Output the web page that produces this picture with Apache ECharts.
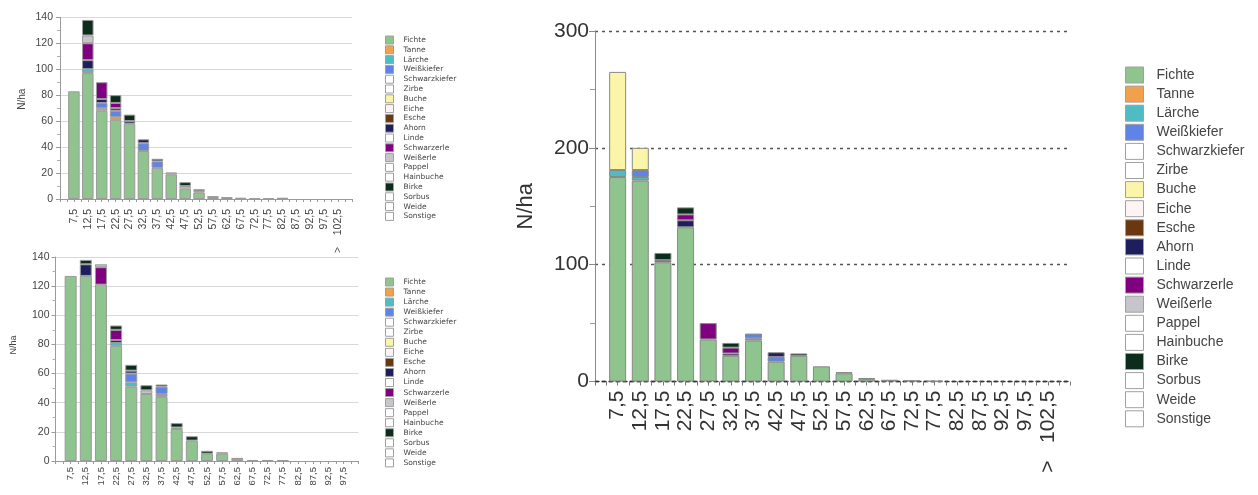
<!DOCTYPE html>
<html>
<head>
<meta charset="utf-8">
<script src="https://cdn.jsdelivr.net/npm/echarts@6/dist/echarts.min.js"></script>
<style>
  html, body { margin: 0; padding: 0; background: #ffffff; }
  #chart { width: 1258px; height: 495px; }
</style>
</head>
<body>
<div id="chart"></div>
<script>
// Baumarten in Stapel- und Legendenreihenfolge (Fichte unten)
const baumarten = ['Fichte', 'Tanne', 'Lärche', 'Weißkiefer', 'Schwarzkiefer', 'Zirbe', 'Buche', 'Eiche',
  'Esche', 'Ahorn', 'Linde', 'Schwarzerle', 'Weißerle', 'Pappel', 'Hainbuche', 'Birke', 'Sorbus', 'Weide', 'Sonstige'];
const farben = ['#8fc48f', '#f3a04c', '#4fbcc4', '#5f84e6', '#ffffff', '#ffffff', '#fbf5a9', '#fff4f4',
  '#6a3810', '#1e1e5e', '#ffffff', '#800080', '#c8c4cc', '#ffffff', '#ffffff', '#0c2c1c', '#ffffff', '#ffffff', '#ffffff'];

// BHD-Klassen (Klassenmitte, cm) und Beschriftungen
const klassen = [7.5, 12.5, 17.5, 22.5, 27.5, 32.5, 37.5, 42.5, 47.5, 52.5, 57.5, 62.5, 67.5, 72.5, 77.5, 82.5, 87.5, 92.5, 97.5, 102.5];
const klassenLabels = ['7,5', '12,5', '17,5', '22,5', '27,5', '32,5', '37,5', '42,5', '47,5', '52,5', '57,5', '62,5',
  '67,5', '72,5', '77,5', '82,5', '87,5', '92,5', '97,5', '> 102,5'];
const klassenUnten = [7.5, 12.5, 17.5, 22.5, 27.5, 32.5, 37.5, 42.5, 47.5, 52.5, 57.5, 62.5, 67.5, 72.5, 77.5, 82.5, 87.5, 92.5, 97.5];

// Stammzahl N/ha je Klasse – Diagramm oben links
const obenFichte      = [83, 97, 68, 61, 58, 37, 24, 19, 8, 5, 1.5, 1.5, 1, 0.5, 0.5, 1, 0, 0, 0, 0];
const obenTanne       = [0, 0, 2, 2, 0, 0, 0, 0, 0, 0, 0, 0, 0, 0, 0, 0, 0, 0, 0, 0];
const obenLaerche     = [0, 3, 0, 0, 0, 0, 0, 0, 0, 0, 0, 0, 0, 0, 0, 0, 0, 0, 0, 0];
const obenWeisskiefer = [0, 0, 4, 5, 0, 6, 5, 0, 0, 0, 0, 0, 0, 0, 0, 0, 0, 0, 0, 0];
const obenAhorn       = [0, 7, 3, 2, 2, 3, 2, 0, 0, 0, 0, 0, 0, 0, 0, 0, 0, 0, 0, 0];
const obenSchwarzerle = [0, 13, 13, 4, 0, 0, 0, 0, 0, 0, 0, 0, 0, 0, 0, 0, 0, 0, 0, 0];
const obenWeisserle   = [0, 6, 0, 0, 0, 0, 0, 1.5, 2, 1, 0, 0, 0, 0, 0, 0, 0, 0, 0, 0];
const obenBirke       = [0, 12, 0, 6, 5, 0, 0, 0, 3, 1.5, 0.5, 0, 0, 0, 0, 0, 0, 0, 0, 0];

// Stammzahl N/ha je Klasse – Diagramm unten links
const untenFichte      = [127, 127, 121, 79, 51, 46, 44, 22, 14, 5, 5, 1.5, 0.7, 0.7, 0.5, 0, 0, 0, 0];
const untenLaerche     = [0, 0, 0, 2, 3, 0, 2, 0, 0, 0, 0, 0, 0, 0, 0, 0, 0, 0, 0];
const untenWeisskiefer = [0, 0, 0, 0, 6, 0, 5, 0, 0, 0, 0, 0, 0, 0, 0, 0, 0, 0, 0];
const untenAhorn       = [0, 8, 0, 2, 2, 0, 1.5, 1, 0, 0, 0, 0, 0, 0, 0, 0, 0, 0, 0];
const untenSchwarzerle = [0, 0, 12, 7, 0, 0, 0, 0, 0, 0, 0, 0, 0, 0, 0, 0, 0, 0, 0];
const untenWeisserle   = [0, 0, 2, 0, 0, 2.5, 0, 0, 0, 0, 1, 0, 0, 0, 0, 0, 0, 0, 0];
const untenBirke       = [0, 3, 0, 3, 4, 3.5, 0, 3, 3, 2, 0, 0.5, 0, 0, 0, 0, 0, 0, 0];

// Stammzahl N/ha je Klasse – großes Diagramm
const gesamtFichte      = [175, 172, 102, 132, 36, 22, 35, 17, 22, 13, 7, 2, 1.5, 1, 0.5, 0, 0, 0, 0, 0];
const gesamtLaerche     = [6, 3, 0, 0, 0, 0, 2, 0, 0, 0, 0, 0, 0, 0, 0, 0, 0, 0, 0, 0];
const gesamtWeisskiefer = [0, 6, 0, 0, 0, 0, 4, 4, 0, 0, 0, 0, 0, 0, 0, 0, 0, 0, 0, 0];
const gesamtBuche       = [84, 19, 0, 0, 0, 0, 0, 0, 0, 0, 0, 0, 0, 0, 0, 0, 0, 0, 0, 0];
const gesamtEsche       = [0, 0, 2, 0, 0, 0, 0, 0, 0, 0, 0, 0, 0, 0, 0, 0, 0, 0, 0, 0];
const gesamtAhorn       = [0, 0, 0, 6, 0, 2, 0, 4, 0, 0, 0, 0, 0, 0, 0, 0, 0, 0, 0, 0];
const gesamtSchwarzerle = [0, 0, 0, 5, 14, 5, 0, 0, 0, 0, 0, 0, 0, 0, 0, 0, 0, 0, 0, 0];
const gesamtBirke       = [0, 0, 6, 6, 0, 4, 0, 0, 2, 0, 1, 1, 0, 0, 0, 0, 0, 0, 0, 0];

const tabOben = { 'Fichte': obenFichte, 'Tanne': obenTanne, 'Lärche': obenLaerche, 'Weißkiefer': obenWeisskiefer,
  'Ahorn': obenAhorn, 'Schwarzerle': obenSchwarzerle, 'Weißerle': obenWeisserle, 'Birke': obenBirke };
const tabUnten = { 'Fichte': untenFichte, 'Lärche': untenLaerche, 'Weißkiefer': untenWeisskiefer,
  'Ahorn': untenAhorn, 'Schwarzerle': untenSchwarzerle, 'Weißerle': untenWeisserle, 'Birke': untenBirke };
const tabGesamt = { 'Fichte': gesamtFichte, 'Lärche': gesamtLaerche, 'Weißkiefer': gesamtWeisskiefer,
  'Buche': gesamtBuche, 'Esche': gesamtEsche, 'Ahorn': gesamtAhorn, 'Schwarzerle': gesamtSchwarzerle, 'Birke': gesamtBirke };

const schrift = 'Liberation Sans, Arial, sans-serif';

// Beschriftung nur an den Klassenmitten bis zur letzten Klasse des Diagramms;
// der Abstand hinter dem ">" wird mit geschützten Leerzeichen gesetzt
function klassenFormatter(anzahl, leer) {
  return function (v) {
    const k = (v - 7.5) / 5;
    const i = Math.round(k);
    if (Math.abs(k - i) > 1e-6 || i < 0 || i >= anzahl) return '';
    return klassenLabels[i].replace(' ', leer);
  };
}

// Gestapelte Balken je Baumart; die Stammzahl steht als erste Dimension,
// damit der Stapel über N/ha (y) und nicht über die Klassenmitte gebildet wird
function stapel(tab, xs, idx, breite, rand) {
  return baumarten.map(function (name, i) {
    const werte = tab[name] || [];
    return {
      type: 'bar', name: name, xAxisIndex: idx, yAxisIndex: idx, stack: 'st' + idx,
      barWidth: breite, animation: false,
      dimensions: ['n', 'bhd'],
      encode: { x: 'bhd', y: 'n' },
      emphasis: { disabled: true },
      itemStyle: { color: farben[i], borderColor: rand, borderWidth: 1 },
      data: werte.map(function (v, k) { return [v > 0 ? v : '-', xs[k]]; })
    };
  });
}

// Legende: das Symbol wächst durch den 1-px-Rahmen um 1 px, daher Höhe um 1 kleiner
function legende(links, oben, b, h, abstand, groesse, fam, textAbstand) {
  return {
    data: baumarten, orient: 'vertical', left: links, top: oben, padding: 0,
    itemWidth: b, itemHeight: h - 1, itemGap: abstand, icon: 'rect', selectedMode: false,
    itemStyle: { borderColor: '#a0a0a0', borderWidth: 1 },
    textStyle: { fontSize: groesse, lineHeight: h - 1, fontFamily: fam, color: '#444', padding: [0, 0, 0, textAbstand] }
  };
}

const chart = echarts.init(document.getElementById('chart'), null, { renderer: 'canvas' });

const option = {
  backgroundColor: '#ffffff',
  animation: false,
  grid: [
    { left: 60, top: 17.3, width: 292, height: 181.7 },
    { left: 55.5, top: 257, width: 303, height: 204 },
    { left: 595, top: 31, width: 475.5, height: 350.5 }
  ],
  legend: [
    legende(385, 35.5, 8, 9, 0.8, 7.5, 'DejaVu Sans, sans-serif', 5),
    legende(385, 277.5, 8, 9, 1.05, 7.5, 'DejaVu Sans, sans-serif', 5),
    legende(1125, 66.5, 18, 17, 2.1, 14, schrift, 8)
  ],
  xAxis: [
    {
      type: 'value', gridIndex: 0, min: 2.5, max: 107.5, interval: 2.5,
      axisLine: { show: true, onZero: false, lineStyle: { color: '#9a9a9a' } },
      axisTick: { show: true, length: 3, lineStyle: { color: '#9a9a9a' } },
      splitLine: { show: false },
      axisLabel: { rotate: 90, fontSize: 10.5, fontFamily: schrift, color: '#444', margin: 10,
        formatter: klassenFormatter(klassen.length, '\u00a0\u00a0\u00a0\u00a0') }
    },
    {
      type: 'value', gridIndex: 1, min: 2.5, max: 102.5, interval: 2.5,
      axisLine: { show: true, onZero: false, lineStyle: { color: '#9a9a9a' } },
      axisTick: { show: true, length: 3, lineStyle: { color: '#9a9a9a' } },
      splitLine: { show: false },
      axisLabel: { rotate: 90, fontSize: 9.5, fontFamily: schrift, color: '#444', margin: 6,
        formatter: klassenFormatter(klassenUnten.length, ' ') }
    },
    {
      type: 'value', gridIndex: 2, min: 2.5, max: 107.5, interval: 2.5,
      axisLine: { show: true, onZero: false, lineStyle: { color: '#333', type: [4, 3], width: 1.3 } },
      axisTick: { show: true, length: 4, lineStyle: { color: '#777' } },
      splitLine: { show: false },
      axisLabel: { rotate: 90, fontSize: 21, fontFamily: schrift, color: '#333', margin: 9,
        formatter: klassenFormatter(klassen.length, '\u00a0\u00a0\u00a0') }
    }
  ],
  yAxis: [
    {
      type: 'value', gridIndex: 0, min: 0, max: 140, interval: 20,
      axisLine: { show: true, lineStyle: { color: '#9a9a9a' } },
      axisTick: { show: true, length: 4, lineStyle: { color: '#9a9a9a' } },
      minorTick: { show: true, splitNumber: 2, length: 3, lineStyle: { color: '#b0b0b0' } },
      splitLine: { lineStyle: { color: '#d8d8d8' } },
      axisLabel: { fontSize: 10.5, fontFamily: schrift, color: '#444', margin: 7 },
      name: 'N/ha', nameLocation: 'middle', nameGap: 33,
      nameTextStyle: { fontSize: 10, fontFamily: schrift, color: '#444', padding: [0, 0, 0, 18] }
    },
    {
      type: 'value', gridIndex: 1, min: 0, max: 140, interval: 20,
      axisLine: { show: true, lineStyle: { color: '#9a9a9a' } },
      axisTick: { show: true, length: 4, lineStyle: { color: '#9a9a9a' } },
      minorTick: { show: true, splitNumber: 2, length: 3, lineStyle: { color: '#b0b0b0' } },
      splitLine: { lineStyle: { color: '#d8d8d8' } },
      axisLabel: { fontSize: 10.5, fontFamily: schrift, color: '#444', margin: 6 },
      name: 'N/ha', nameLocation: 'middle', nameGap: 37,
      nameTextStyle: { fontSize: 9, fontFamily: schrift, color: '#444', padding: [0, 0, 0, 28] }
    },
    {
      type: 'value', gridIndex: 2, min: 0, max: 300, interval: 100,
      axisLine: { show: true, lineStyle: { color: '#8a8a8a' } },
      axisTick: { show: true, length: 6, lineStyle: { color: '#8a8a8a' } },
      minorTick: { show: true, splitNumber: 2, length: 5, lineStyle: { color: '#9a9a9a' } },
      splitLine: { lineStyle: { color: '#555', type: [3, 4], width: 1.3 } },
      axisLabel: { fontSize: 21, fontFamily: schrift, color: '#333', margin: 6 },
      name: 'N/ha', nameLocation: 'middle', nameGap: 58,
      nameTextStyle: { fontSize: 22, fontFamily: schrift, color: '#333' }
    }
  ],
  series: [].concat(
    stapel(tabOben, klassen, 0, 11.5, '#9a9a9a'),
    stapel(tabUnten, klassenUnten, 1, 12, '#9a9a9a'),
    stapel(tabGesamt, klassen, 2, 17, '#888888')
  )
};

chart.setOption(option);
</script>
</body>
</html>
